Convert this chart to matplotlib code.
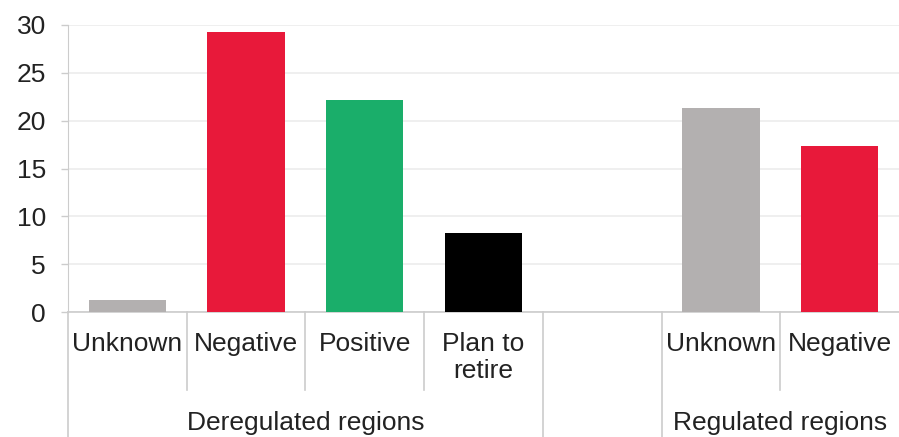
import matplotlib
matplotlib.use('Agg')
import matplotlib.pyplot as plt
import matplotlib.transforms as mtransforms

# data
categories = ['Unknown', 'Negative', 'Positive', 'Plan to\nretire', '', 'Unknown', 'Negative']
values = [1.3, 29.3, 22.2, 8.3, None, 21.3, 17.4]
groups = ['Deregulated regions', '', 'Regulated regions']
group_sizes = [4, 1, 2]

bar_colors = ['#b3b0b0', '#e8193a', '#1aae6a', '#000000', 'none', '#b3b0b0', '#e8193a']

plt.rcParams['font.family'] = ['Liberation Sans', 'DejaVu Sans']

fig = plt.figure(figsize=(8.99, 4.37), dpi=100)
ax = fig.add_axes([68 / 899, 1 - 312 / 437, 1 - 68 / 899, 287 / 437])

xs = [i + 0.5 for i in range(len(categories))]
for x, v, c in zip(xs, values, bar_colors):
    if v is None:
        continue
    ax.bar(x, v, width=0.65, color=c, zorder=3)

ax.set_xlim(0, len(categories))
ax.set_ylim(0, 30)
ax.set_yticks(range(0, 31, 5))
ax.tick_params(axis='y', labelsize=19, length=5, width=1,
               color='#cccccc', pad=11, labelcolor='#222222')
ax.set_xticks([])
ax.grid(axis='y', color='#ececec', linewidth=1.2, zorder=0)
for s in ['top', 'right']:
    ax.spines[s].set_visible(False)
ax.spines['left'].set_color('#cccccc')
ax.spines['bottom'].set_color('#cccccc')
ax.spines['bottom'].set_linewidth(1.2)

trans = mtransforms.blended_transform_factory(ax.transData, ax.transAxes)

# category labels
for x, lab in zip(xs, categories):
    ax.text(x, -0.07, lab, transform=trans, ha='center', va='top',
            fontsize=19, color='#222222', linespacing=1.15)

# separators between categories and groups
bounds = []
pos = 0
for n in group_sizes:
    bounds.append(pos)
    pos += n
bounds.append(pos)
for i in range(len(categories)):
    y_end = -0.45 if i in bounds else -0.272
    ax.plot([i, i], [0, y_end], transform=trans, color='#cccccc',
            linewidth=1.2, clip_on=False)

# group labels
for g, start, n in zip(groups, bounds[:-1], group_sizes):
    if g:
        ax.text(start + n / 2, -0.387, g, transform=trans, ha='center',
                va='center', fontsize=19, color='#222222')

fig.savefig('out.png', dpi=100)
